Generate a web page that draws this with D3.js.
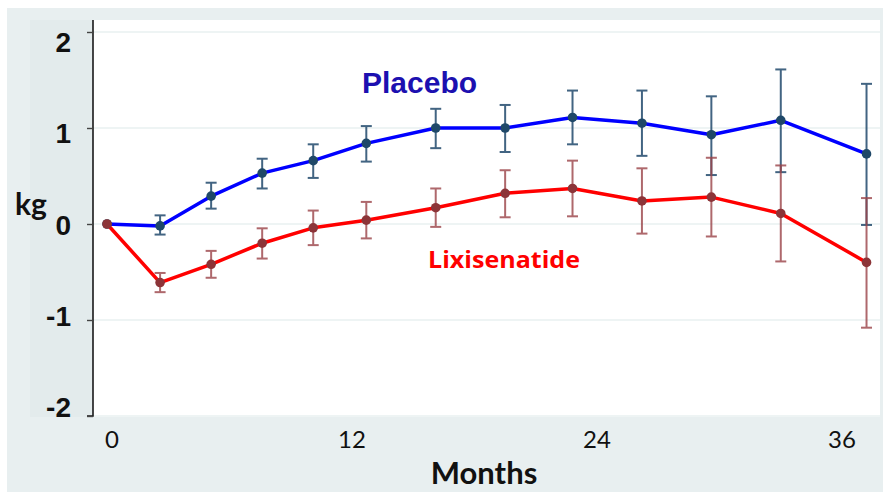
<!DOCTYPE html>
<html>
<head>
<meta charset="utf-8">
<script src="https://cdn.jsdelivr.net/npm/d3@7"></script>
<style>
  html, body { margin: 0; padding: 0; background: #ffffff; }
  svg { display: block; }
</style>
</head>
<body>
<svg id="chart" width="883" height="492"></svg>
<script>
// ---- data ----
const months      = [0, 2.6, 5.1, 7.6, 10.1, 12.7, 16.1, 19.5, 22.8, 26.2, 29.6, 33.0, 37.2];
const placebo     = [0, -0.02, 0.29, 0.53, 0.66, 0.84, 1.00, 1.00, 1.11, 1.05, 0.93, 1.08, 0.73];
const placeboLo   = [0, -0.11, 0.16, 0.37, 0.48, 0.65, 0.79, 0.75, 0.83, 0.71, 0.51, 0.54, -0.01];
const placeboHi   = [0, 0.09, 0.43, 0.68, 0.83, 1.02, 1.20, 1.24, 1.39, 1.39, 1.33, 1.61, 1.46];
const lixi        = [0, -0.61, -0.42, -0.20, -0.04, 0.04, 0.17, 0.32, 0.37, 0.24, 0.28, 0.11, -0.40];
const lixiLo      = [0, -0.71, -0.56, -0.36, -0.22, -0.15, -0.03, 0.07, 0.08, -0.10, -0.13, -0.39, -1.08];
const lixiHi      = [0, -0.51, -0.28, -0.045, 0.14, 0.23, 0.37, 0.56, 0.66, 0.58, 0.69, 0.61, 0.27];
const xTicks      = [0, 12, 24, 36];
const yTicks      = [2, 1, 0, -1, -2];
const seriesNames = ["Placebo", "Lixisenatide"];

// ---- layout ----
const svg = d3.select("#chart");
const W = 883, H = 492;
const plot = { left: 93, right: 880, top: 20, bottom: 417 };

const x = d3.scaleLinear().domain([-0.686, 37.86]).range([plot.left, plot.right]);
const y = d3.scaleLinear().domain([-2, 2]).range([416, 32]);
const yLab = d3.scaleLinear().domain([-2, 2]).range([417, 52]);

// backgrounds
svg.append("rect").attr("x", 0).attr("y", 0).attr("width", W).attr("height", H).attr("fill", "#ffffff");
svg.append("rect").attr("x", 7).attr("y", 8).attr("width", W - 7).attr("height", H - 8).attr("fill", "#e8eff0");
svg.append("rect").attr("x", 30).attr("y", 20).attr("width", plot.left - 30).attr("height", plot.bottom - 20).attr("fill", "#e3ebec");
svg.append("rect").attr("x", plot.left).attr("y", plot.top)
  .attr("width", plot.right - plot.left).attr("height", plot.bottom - plot.top).attr("fill", "#ffffff");

// gridlines
svg.append("g").selectAll("line").data(yTicks).join("line")
  .attr("x1", plot.left).attr("x2", plot.right)
  .attr("y1", d => y(d)).attr("y2", d => y(d))
  .attr("stroke", "#e9f1f1").attr("stroke-width", 1.6);

// y axis
const yAxis = d3.axisLeft(y).tickValues(yTicks).tickSize(6).tickFormat("");
const gy = svg.append("g").attr("transform", `translate(${plot.left},0)`).call(yAxis);
gy.select(".domain").attr("d", `M-6,${y(-2)}H0V${plot.top}`).attr("stroke", "#1a1a1a").attr("stroke-width", 1.6);
gy.selectAll(".tick line").attr("stroke", "#444").attr("stroke-width", 1.4);

svg.append("g").selectAll("text").data(yTicks).join("text")
  .attr("x", 71).attr("y", d => yLab(d))
  .attr("text-anchor", "end")
  .attr("font-family", "Liberation Sans, Arial, sans-serif")
  .attr("font-weight", "bold").attr("font-size", 28).attr("fill", "#111")
  .text(d => d);

svg.append("text").attr("x", 15).attr("y", 215)
  .attr("font-family", "Lato, sans-serif").attr("font-weight", "bold")
  .attr("font-size", 30).attr("fill", "#111").text("kg");

// x tick labels
svg.append("g").selectAll("text").data(xTicks).join("text")
  .attr("x", d => x(d) + (d === 0 ? 5 : 0)).attr("y", 448)
  .attr("text-anchor", "middle")
  .attr("font-family", "Lato, sans-serif").attr("font-size", 24).attr("fill", "#111")
  .text(d => d);

svg.append("text").attr("x", 484).attr("y", 484).attr("text-anchor", "middle")
  .attr("font-family", "Lato, sans-serif").attr("font-weight", "bold")
  .attr("font-size", 31).attr("fill", "#111").text("Months");

// series
const series = [
  { name: seriesNames[0], v: placebo, lo: placeboLo, hi: placeboHi, line: "#0000ff", err: "#2e5475", dot: "#1f4868", errOp: 0.9 },
  { name: seriesNames[1], v: lixi, lo: lixiLo, hi: lixiHi, line: "#ff0000", err: "#9b4348", dot: "#8c3438", errOp: 0.8 }
];

const lineGen = d3.line().x(d => x(d.m)).y(d => y(d.v));

series.forEach(s => {
  const pts = months.map((m, i) => ({ m, v: s.v[i], lo: s.lo[i], hi: s.hi[i], i }));
  svg.append("path").datum(pts).attr("d", lineGen)
    .attr("fill", "none").attr("stroke", s.line).attr("stroke-width", 3.5)
    .attr("stroke-linejoin", "round");
  s.pts = pts;
});

series.forEach(s => {
  const eb = svg.append("g").attr("stroke", s.err).attr("stroke-width", 2).attr("opacity", s.errOp);
  const withErr = s.pts.filter(d => d.i > 0);
  eb.selectAll("line.v").data(withErr).join("line").attr("class", "v")
    .attr("x1", d => x(d.m)).attr("x2", d => x(d.m))
    .attr("y1", d => y(d.lo)).attr("y2", d => y(d.hi));
  eb.selectAll("line.t").data(withErr).join("line").attr("class", "t")
    .attr("x1", d => x(d.m) - 5.5).attr("x2", d => x(d.m) + 5.5)
    .attr("y1", d => y(d.hi)).attr("y2", d => y(d.hi));
  eb.selectAll("line.b").data(withErr).join("line").attr("class", "b")
    .attr("x1", d => x(d.m) - 5.5).attr("x2", d => x(d.m) + 5.5)
    .attr("y1", d => y(d.lo)).attr("y2", d => y(d.lo));
});

series.forEach(s => {
  svg.append("g").selectAll("circle").data(s.pts).join("circle")
    .attr("cx", d => x(d.m)).attr("cy", d => y(d.v)).attr("r", 4.8)
    .attr("fill", s.dot);
});

// series labels
svg.append("text").attr("x", 362).attr("y", 93)
  .attr("font-family", "Liberation Sans, Arial, sans-serif").attr("font-weight", "bold")
  .attr("font-size", 30).attr("fill", "#1c10b0").text(seriesNames[0]);
svg.append("text").attr("x", 428).attr("y", 268)
  .attr("font-family", "Open Sans, sans-serif").attr("font-weight", "bold")
  .attr("font-size", 23).attr("fill", "#ff0000")
  .attr("textLength", 152).attr("lengthAdjust", "spacingAndGlyphs")
  .text(seriesNames[1]);
</script>
</body>
</html>
